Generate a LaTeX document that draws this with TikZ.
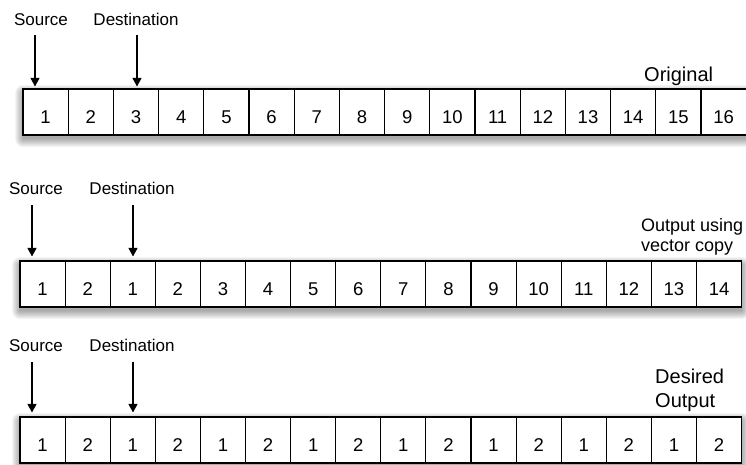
\documentclass[tikz,border=0pt]{standalone}
\usepackage{fontspec}
\setmainfont{Liberation Sans}
\usetikzlibrary{arrows.meta}
\tikzset{
  cell/.style={draw=black, line width=1.1pt, fill=white, minimum height=46pt,
    inner sep=0pt, text height=23pt, text depth=0pt,
    font=\fontsize{18.5}{21}\selectfont},
  lab/.style={inner sep=0pt, anchor=base, font=\fontsize{17}{20}\selectfont},
  ttl/.style={inner sep=0pt, anchor=base west, font=\fontsize{20}{24}\selectfont},
  arr/.style={line width=1.1pt, -{Triangle[width=9pt,length=8.5pt]}},
}
\newcommand\rowshadow[4]{%
  \foreach \e in {0,1,...,8}{%
    \fill[black, opacity=0.045, rounded corners=\e pt] (#1-\e,#2-\e+4) rectangle (#3+\e,#4+\e+4);
  }%
}
\begin{document}
\begin{tikzpicture}[x=1pt,y=-1pt]
\useasboundingbox (0,0) rectangle (746,464);

% ---------- Row 1 ----------
\node[lab] (src1) at (41,25) {Source};
\node[lab] (dst1) at (136,25) {Destination};
\node[ttl] (t1) at (644,81) {Original};
\rowshadow{23}{89}{745.5}{135}
\foreach \v [count=\i] in {1,2,3,4,5,6,7,8,9,10,11,12,13,14,15,16}
  \node[cell, minimum width=45.2pt] (r1c\i) at ({23+45.2*(\i-0.5)},112) {\v};
\coordinate (a1) at (35,35);
\coordinate (b1) at (137,35);
\draw[arr, shorten >=2pt] (a1) -- (a1 |- r1c1.north);
\draw[arr, shorten >=2pt] (b1) -- (b1 |- r1c3.north);

% ---------- Row 2 ----------
\node[lab] (src2) at (36,194) {Source};
\node[lab] (dst2) at (132,194) {Destination};
\node[ttl, font=\fontsize{18}{22}\selectfont] (t2a) at (641,231) {Output using};
\node[ttl, font=\fontsize{18}{22}\selectfont] (t2b) at (641,251) {vector copy};
\rowshadow{20}{261}{742}{307}
\foreach \v [count=\i] in {1,2,1,2,3,4,5,6,7,8,9,10,11,12,13,14}
  \node[cell, minimum width=45.1pt] (r2c\i) at ({20+45.1*(\i-0.5)},284) {\v};
\coordinate (a2) at (32,205);
\coordinate (b2) at (133,205);
\draw[arr, shorten >=4pt] (a2) -- (a2 |- r2c1.north);
\draw[arr, shorten >=4pt] (b2) -- (b2 |- r2c3.north);

% ---------- Row 3 ----------
\node[lab] (src3) at (36,351) {Source};
\node[lab] (dst3) at (132,351) {Destination};
\node[ttl] (t3a) at (655,383) {Desired};
\node[ttl] (t3b) at (655,407) {Output};
\rowshadow{20}{417}{742}{463}
\foreach \v [count=\i] in {1,2,1,2,1,2,1,2,1,2,1,2,1,2,1,2}
  \node[cell, minimum width=45.1pt] (r3c\i) at ({20+45.1*(\i-0.5)},440) {\v};
\coordinate (a3) at (32,362);
\coordinate (b3) at (133,362);
\draw[arr, shorten >=4pt] (a3) -- (a3 |- r3c1.north);
\draw[arr, shorten >=4pt] (b3) -- (b3 |- r3c3.north);
\end{tikzpicture}
\end{document}
